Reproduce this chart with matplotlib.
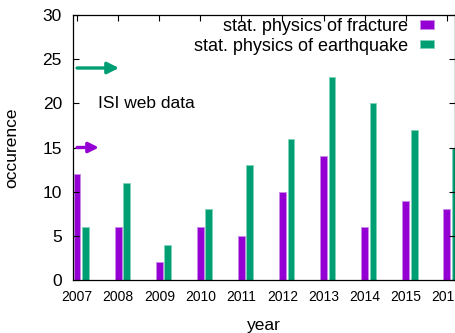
import numpy as np
import matplotlib.pyplot as plt

plt.rcParams['font.family'] = ['Liberation Sans', 'DejaVu Sans']

# publications per year (ISI web)
years = ['2007', '2008', '2009', '2010', '2011', '2012', '2013', '2014', '2015', '2016']
fracture = [12, 6, 2, 6, 5, 10, 14, 6, 9, 8]
earthquake = [6, 11, 4, 8, 13, 16, 23, 20, 17, 15]

purple = '#9400d3'
green = '#009e73'

x = np.arange(len(years))
w = 0.165

fig = plt.figure(figsize=(4.56, 3.33), dpi=100)
ax = fig.add_axes([73/456, 1 - 280/333, 382/456, 265/333])

ax.bar(x, fracture, w, color=purple, edgecolor='#c98ae8', linewidth=0.6,
       label='stat. physics of fracture')
ax.bar(x + 0.205, earthquake, w, color=green, edgecolor='#7fd3b8', linewidth=0.6,
       label='stat. physics of earthquake')

# arrows + note
ax.annotate('', xy=(1.02, 24), xytext=(0.0, 24),
            arrowprops=dict(arrowstyle='-|>', color=green, lw=2.4,
                            mutation_scale=17, shrinkA=0, shrinkB=0))
ax.annotate('', xy=(0.53, 15), xytext=(0.0, 15),
            arrowprops=dict(arrowstyle='-|>', color=purple, lw=2.4,
                            mutation_scale=15, shrinkA=0, shrinkB=0))
ax.text(0.51, 20, 'ISI web data', fontsize=12.5, ha='left', va='center')

ax.set_xlim(-0.10, 9.2)
ax.set_ylim(0, 30)
ax.set_yticks(range(0, 31, 5))
ax.set_xticks(x)
ax.set_xticklabels(years, fontsize=10)
ax.tick_params(axis='y', direction='in', length=4, width=0.8, right=True,
               labelsize=12.5, pad=8)
ax.tick_params(axis='x', direction='in', length=4, width=0.8, top=True,
               bottom=False, pad=7)
for s in ax.spines.values():
    s.set_linewidth(0.9)

ax.set_xlabel('year', fontsize=12.5, labelpad=10)
ax.set_ylabel('occurence', fontsize=12.5, labelpad=17)

ax.legend(loc='upper right', bbox_to_anchor=(1 - 21/382, 1 - 3/265),
          markerfirst=False, frameon=False, fontsize=13,
          handlelength=0.8, handleheight=0.35, handletextpad=0.65,
          labelspacing=0.15, borderaxespad=0.0, borderpad=0.0)

plt.savefig('out.png', dpi=100)
